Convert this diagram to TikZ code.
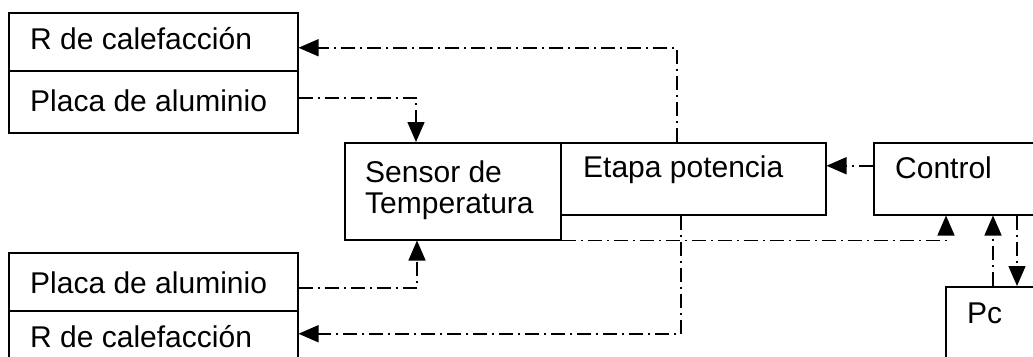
\documentclass[tikz,border=0pt]{standalone}
\usepackage{fontspec}
\setmainfont{Liberation Sans}
\usetikzlibrary{arrows.meta}
\begin{document}
\begin{tikzpicture}[x=1pt,y=-1pt,
  box/.style={draw, line width=1.5pt, inner sep=0pt, anchor=north west},
  lbl/.style={anchor=base west, inner sep=0pt, font=\fontsize{30}{32}\selectfont},
  flow/.style={line width=1.5pt, dash pattern=on 14pt off 5pt on 2pt off 5pt,
    -{Triangle[length=20pt,width=17pt]}}]
\useasboundingbox (0,0) rectangle (1033,356);
\clip (0,0) rectangle (1033,356);
% boxes
\node[box, minimum width=289pt, minimum height=58pt] (rtop) at (8,12) {};
\node[box, minimum width=289pt, minimum height=62pt] (ptop) at (8,70) {};
\node[box, minimum width=289pt, minimum height=58pt] (pbot) at (8,252) {};
\node[box, minimum width=289pt, minimum height=60pt] (rbot) at (8,310) {};
\node[box, minimum width=216pt, minimum height=97pt] (sensor) at (344,142) {};
\node[box, minimum width=265pt, minimum height=72pt] (etapa) at (560,142) {};
\node[box, minimum width=180pt, minimum height=72pt] (control) at (873,142) {};
\node[box, minimum width=120pt, minimum height=100pt] (pc) at (945,286) {};
% texts
\node[lbl] (t1) at (30,49) {R de calefacción};
\node[lbl] (t2) at (30,111) {Placa de aluminio};
\node[lbl] (t3) at (30,293) {Placa de aluminio};
\node[lbl] (t4) at (30,347) {R de calefacción};
\node[lbl] (t5) at (365,182) {Sensor de};
\node[lbl] (t6) at (365,213) {Temperatura};
\node[lbl] (t7) at (583,177) {Etapa potencia};
\node[lbl] (t8) at (895,178) {Control};
\node[lbl] (t9) at (967,323) {Pc};
% connector anchors
\coordinate (et) at ([xshift=117pt]etapa.north west);
\coordinate (eb) at ([xshift=121pt]etapa.south west);
\coordinate (pcu) at ([xshift=48pt]pc.north west);
\coordinate (cd) at ([xshift=144pt]control.south west);
% connectors
\draw[flow] (et) |- ([yshift=-6pt]rtop.east);
\draw[flow] ([yshift=4pt]ptop.east) -| ([xshift=72pt]sensor.north west);
\draw[flow] ([yshift=13pt]control.west) -- ([yshift=13pt]etapa.east);
\draw[flow] (sensor.south east) -| ([xshift=73pt]control.south west);
\draw[flow] (pcu) -- (pcu |- control.south);
\draw[flow] (cd) -- (cd |- pc.north);
\draw[flow] ([yshift=-6pt]pbot.east) -| ([xshift=73pt]sensor.south west);
\draw[flow] (eb) |- ([yshift=7pt]rbot.east);
\end{tikzpicture}
\end{document}
